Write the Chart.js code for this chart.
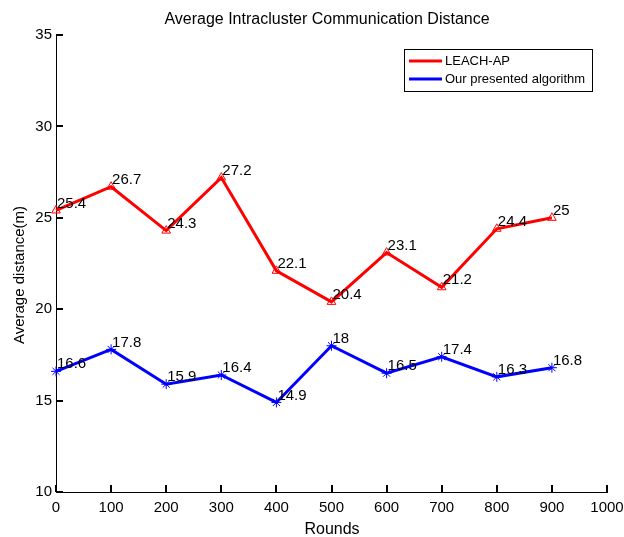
<!DOCTYPE html>
<html>
<head>
<meta charset="utf-8">
<script src="https://cdn.jsdelivr.net/npm/chart.js@4.4.0/dist/chart.umd.min.js"></script>
<style>
  html, body { margin: 0; padding: 0; background: #fff; }
  #wrap { width: 624px; height: 537px; }
</style>
</head>
<body>
<div id="wrap"><canvas id="chart" width="624" height="537"></canvas></div>
<script>
const rounds = [0, 100, 200, 300, 400, 500, 600, 700, 800, 900];
const leachAp = [25.4, 26.7, 24.3, 27.2, 22.1, 20.4, 23.1, 21.2, 24.4, 25];
const ourAlgo = [16.6, 17.8, 15.9, 16.4, 14.9, 18, 16.5, 17.4, 16.3, 16.8];
const seriesNames = ['LEACH-AP', 'Our presented algorithm'];
const xTicks = [0, 100, 200, 300, 400, 500, 600, 700, 800, 900, 1000];
const yTicks = [10, 15, 20, 25, 30, 35];
const chartTitle = 'Average Intracluster Communication Distance';
const xTitle = 'Rounds';
const yTitle = 'Average distance(m)';

const FONT = '"Liberation Sans", Arial, Helvetica, sans-serif';

function toPoints(xs, ys) {
  return xs.map((x, i) => ({ x: x, y: ys[i] }));
}

// titles, inside ticks, value labels and legend box
const decorations = {
  id: 'decorations',
  afterDraw(chart) {
    const ctx = chart.ctx;
    const xs = chart.scales.x;
    const ys = chart.scales.y;
    const bottom = Math.round(ys.getPixelForValue(yTicks[0]));
    const left = Math.round(xs.getPixelForValue(xTicks[0]));
    ctx.save();

    // ticks pointing into the plot
    ctx.fillStyle = '#000000';
    xTicks.forEach(v => {
      const px = Math.round(xs.getPixelForValue(v));
      ctx.fillRect(px - 1, bottom - 7, 2, 7);
    });
    yTicks.forEach(v => {
      const py = Math.round(ys.getPixelForValue(v));
      ctx.fillRect(left, py - 1, 7, 2);
    });

    // titles
    ctx.fillStyle = '#000';
    ctx.font = '16px ' + FONT;
    ctx.textAlign = 'center';
    ctx.textBaseline = 'middle';
    ctx.fillText(chartTitle, 327, 20);
    ctx.fillText(xTitle, 332, 530);
    ctx.font = '15px ' + FONT;
    ctx.save();
    ctx.translate(20, 275);
    ctx.rotate(-Math.PI / 2);
    ctx.fillText(yTitle, 0, 0);
    ctx.restore();

    // value labels next to each marker
    ctx.font = '15px ' + FONT;
    ctx.textAlign = 'left';
    ctx.textBaseline = 'middle';
    chart.data.datasets.forEach((ds, di) => {
      const meta = chart.getDatasetMeta(di);
      meta.data.forEach((pt, i) => {
        ctx.fillText(String(ds.data[i].y), pt.x + 1, pt.y - 7);
      });
    });

    // legend
    const lx = 404, ly = 49, lw = 188, lh = 42;
    ctx.fillStyle = '#fff';
    ctx.fillRect(lx, ly, lw, lh);
    ctx.strokeStyle = '#000';
    ctx.lineWidth = 1;
    ctx.strokeRect(lx + 0.5, ly + 0.5, lw, lh);
    chart.data.datasets.forEach((ds, di) => {
      const y = ly + 12 + di * 18;
      ctx.strokeStyle = ds.borderColor;
      ctx.lineWidth = 3;
      ctx.beginPath();
      ctx.moveTo(lx + 5, y);
      ctx.lineTo(lx + 38, y);
      ctx.stroke();
      ctx.fillStyle = '#000';
      ctx.font = '13px ' + FONT;
      ctx.textAlign = 'left';
      ctx.fillText(ds.label, lx + 41, y);
    });

    ctx.restore();
  }
};

new Chart(document.getElementById('chart').getContext('2d'), {
  type: 'line',
  data: {
    datasets: [
      {
        label: seriesNames[0],
        data: toPoints(rounds, leachAp),
        borderColor: '#ff0000',
        backgroundColor: 'rgba(0,0,0,0)',
        borderWidth: 3,
        pointStyle: 'triangle',
        pointRadius: 5,
        pointBorderWidth: 1,
        pointBorderColor: '#ff0000',
        pointBackgroundColor: 'rgba(0,0,0,0)',
        tension: 0
      },
      {
        label: seriesNames[1],
        data: toPoints(rounds, ourAlgo),
        borderColor: '#0000ff',
        backgroundColor: 'rgba(0,0,0,0)',
        borderWidth: 3,
        pointStyle: 'star',
        pointRadius: 5,
        pointBorderWidth: 1,
        pointBorderColor: '#0000ff',
        pointBackgroundColor: 'rgba(0,0,0,0)',
        tension: 0
      }
    ]
  },
  options: {
    responsive: false,
    animation: false,
    clip: false,
    layout: { padding: { top: 35, right: 17, left: 0, bottom: 0 } },
    plugins: {
      legend: { display: false },
      title: { display: false },
      tooltip: { enabled: false }
    },
    scales: {
      x: {
        type: 'linear',
        min: 0,
        max: 1000,
        ticks: {
          stepSize: 100, color: '#000', font: { size: 15, family: FONT }, padding: 7, maxRotation: 0,
          callback: v => String(v)
        },
        grid: { display: false, drawTicks: false },
        border: { display: true, color: '#000', width: 1 },
        afterFit(scale) {
          scale.height = 45;
          scale.paddingLeft = 0;
          scale.paddingRight = 0;
        }
      },
      y: {
        min: 10,
        max: 35,
        ticks: { stepSize: 5, color: '#000', font: { size: 15, family: FONT }, padding: 4 },
        grid: { display: false, drawTicks: false },
        border: { display: true, color: '#000', width: 1 },
        afterFit(scale) {
          scale.width = 56;
          scale.paddingTop = 0;
          scale.paddingBottom = 0;
        }
      }
    }
  },
  plugins: [decorations]
});
</script>
</body>
</html>
